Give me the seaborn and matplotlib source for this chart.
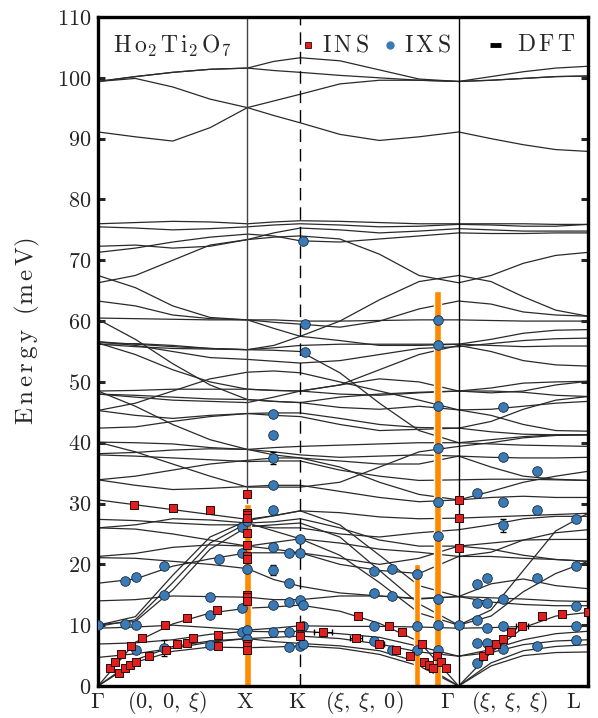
import numpy as np
import pandas as pd
import matplotlib
matplotlib.use("Agg")
import matplotlib.pyplot as plt
import seaborn as sns

# ---------------- data ----------------
# path coordinate of knots: G(0)..X(1)..K(1.354)..G(2.414)..L(3.280)
knot_q = [0.0, 0.25, 0.5, 0.75, 1.0, 1.177, 1.354, 1.619, 1.884, 2.149,
          2.414, 2.631, 2.847, 3.064, 3.280]
sym_lines_q = [1.0, 1.354, 2.414]
label_q = [0.0, 0.465, 0.984, 1.329, 1.784, 2.339, 2.758, 3.183]
label_text = [r"$\Gamma$", r"$(0,\;0,\;\xi)$", "X", "K", r"$(\xi,\;\xi,\;0)$",
              r"$\Gamma$", r"$(\xi,\;\xi,\;\xi)$", "L"]

# DFT branches (meV at knot_q)
dft_low = [
    [0.0, 3.9, 5.7, 6.4, 6.3, 6.4, 6.6, 6.2, 5.2, 3.3, 0.0, 3.3, 5.0, 5.5, 5.6],
    [0.0, 4.3, 6.5, 7.4, 7.8, 7.3, 7.0, 6.6, 5.8, 3.9, 0.0, 3.8, 5.8, 6.5, 6.8],
    [0.0, 7.2, 10.2, 12.0, 12.8, 13.0, 13.3, 12.3, 10.3, 7.3, 0.0, 5.5, 9.6, 11.5, 12.1],
    [4.7, 5.3, 6.2, 7.2, 7.8, 8.0, 8.2, 7.8, 6.9, 5.6, 4.9, 5.5, 6.8, 7.4, 7.6],
    [6.9, 7.1, 7.6, 8.5, 9.0, 8.9, 9.0, 8.6, 8.0, 6.5, 4.9, 6.0, 7.6, 8.6, 9.0],
    [9.5, 9.7, 10.0, 9.6, 9.2, 9.5, 9.9, 9.8, 9.8, 9.7, 9.5, 9.6, 9.8, 9.8, 9.8],
    [10.1, 10.6, 15.8, 22.5, 26.2, 26.5, 26.8, 24.5, 19.0, 13.5, 10.0, 11.5, 15.5, 18.5, 20.5],
    [9.8, 10.9, 17.0, 23.5, 26.8, 25.5, 24.2, 21.5, 17.0, 12.0, 10.0, 12.5, 19.0, 25.5, 28.4],
    [10.0, 11.4, 18.2, 24.5, 27.2, 28.0, 28.8, 26.5, 21.5, 16.5, 14.7, 14.5, 14.3, 14.0, 13.9],
    [14.0, 14.2, 14.8, 14.7, 14.6, 14.2, 14.2, 14.8, 14.8, 14.4, 14.7, 16.8, 17.6, 16.5, 16.0],
    [16.9, 17.6, 19.7, 20.9, 21.9, 21.9, 21.9, 20.0, 19.0, 18.5, 21.3, 21.3, 21.0, 20.8, 20.5],
    [21.1, 21.0, 20.5, 20.0, 19.3, 17.5, 16.4, 15.3, 14.8, 14.3, 14.7, 13.8, 13.4, 13.2, 13.2],
]
dft_mid = [
    [21.3, 21.8, 22.8, 23.2, 23.0, 22.5, 21.9, 21.0, 20.0, 21.0, 23.0, 23.5, 24.0, 24.1, 24.1],
    [26.0, 25.8, 25.0, 24.0, 23.0, 23.6, 24.2, 23.5, 22.5, 22.0, 21.3, 22.0, 24.0, 25.2, 25.7],
    [27.4, 27.2, 26.8, 26.5, 26.5, 26.0, 26.0, 25.0, 24.5, 25.2, 25.7, 26.5, 27.5, 27.9, 27.9],
    [30.6, 29.8, 29.0, 28.2, 27.4, 28.0, 28.8, 28.5, 27.8, 27.5, 27.6, 27.8, 28.0, 28.2, 28.4],
    [33.9, 33.0, 32.3, 32.5, 32.8, 33.0, 33.0, 32.0, 31.0, 30.3, 30.6, 31.0, 31.2, 31.0, 31.0],
    [26.0, 26.5, 27.5, 27.3, 26.8, 27.0, 27.5, 26.0, 24.0, 23.0, 23.0, 22.5, 21.5, 20.8, 20.5],
    [33.9, 34.5, 35.5, 36.5, 37.1, 37.5, 37.5, 36.0, 33.5, 31.5, 30.6, 32.0, 33.5, 34.5, 35.3],
    [38.0, 37.8, 37.5, 37.2, 36.9, 37.0, 37.0, 35.5, 34.5, 33.8, 33.9, 34.0, 34.0, 33.9, 33.8],
    [38.2, 38.4, 38.8, 39.0, 38.9, 38.5, 38.0, 37.6, 37.8, 38.0, 37.8, 37.6, 37.5, 37.5, 37.6],
    [40.1, 38.5, 36.5, 34.5, 32.7, 32.7, 32.7, 33.5, 36.0, 38.5, 39.4, 40.0, 40.8, 41.2, 41.3],
    [40.1, 40.0, 39.8, 39.2, 38.9, 39.2, 39.4, 39.6, 39.8, 40.0, 40.0, 39.8, 39.6, 39.5, 39.4],
    [42.4, 42.6, 43.5, 44.3, 44.8, 44.9, 44.9, 44.0, 43.0, 42.5, 42.4, 43.5, 45.5, 47.0, 47.6],
    [45.3, 46.5, 48.5, 50.5, 51.6, 51.8, 51.5, 50.0, 48.5, 47.0, 45.4, 44.5, 43.0, 42.0, 41.9],
    [45.3, 44.5, 44.0, 44.5, 44.8, 44.5, 44.3, 43.0, 42.0, 42.2, 42.4, 41.8, 41.4, 41.3, 41.3],
    [48.0, 47.8, 47.5, 47.2, 47.1, 46.8, 46.6, 45.8, 45.5, 46.0, 45.4, 45.5, 46.0, 46.5, 46.8],
    [48.0, 47.5, 47.0, 46.8, 46.6, 47.5, 48.5, 49.5, 50.5, 50.0, 48.5, 49.0, 49.8, 50.0, 50.1],
    [48.5, 46.0, 43.0, 40.5, 38.9, 38.0, 37.5, 37.0, 36.5, 36.5, 37.8, 36.0, 34.5, 34.0, 33.8],
    [48.5, 48.6, 48.8, 48.8, 48.8, 48.6, 48.5, 48.0, 47.8, 48.2, 48.5, 48.5, 48.3, 47.8, 47.6],
]
dft_high = [
    [56.2, 55.8, 55.5, 55.4, 55.3, 55.6, 56.0, 56.2, 56.2, 56.2, 56.2, 56.0, 55.8, 55.9, 55.9],
    [56.6, 56.0, 55.0, 54.0, 53.7, 53.4, 53.1, 53.5, 54.5, 55.5, 55.8, 56.3, 56.8, 57.1, 57.2],
    [56.4, 54.5, 52.0, 50.0, 48.8, 48.6, 48.5, 49.5, 52.0, 54.5, 56.0, 55.0, 53.5, 52.8, 52.6],
    [56.6, 56.2, 55.8, 55.5, 55.3, 55.2, 55.0, 51.5, 46.5, 42.0, 40.0, 40.5, 41.0, 41.3, 41.3],
    [56.2, 56.3, 56.0, 55.5, 55.3, 56.0, 57.5, 56.8, 56.0, 56.0, 56.2, 57.0, 58.0, 58.5, 58.6],
    [60.5, 60.4, 60.3, 60.2, 60.2, 60.2, 60.0, 60.0, 60.1, 60.2, 60.2, 60.1, 60.0, 60.0, 60.0],
    [60.3, 57.0, 53.0, 49.5, 47.1, 46.8, 46.6, 47.5, 48.0, 48.3, 48.5, 48.2, 48.5, 49.5, 50.1],
    [63.3, 62.5, 61.0, 60.4, 60.2, 59.8, 59.5, 59.0, 60.0, 62.0, 63.3, 62.8, 61.5, 61.0, 60.8],
    [67.5, 65.5, 62.5, 60.6, 60.2, 58.8, 57.5, 60.0, 63.5, 66.5, 67.5, 66.5, 64.0, 61.8, 60.8],
    [66.3, 67.5, 70.0, 72.5, 73.4, 73.8, 74.0, 73.5, 71.0, 67.5, 66.3, 67.5, 69.5, 70.8, 71.3],
    [71.3, 72.0, 73.0, 73.8, 74.3, 74.0, 73.2, 73.0, 73.5, 74.0, 74.5, 74.4, 74.4, 74.5, 74.5],
    [72.3, 72.5, 72.0, 72.3, 73.4, 74.5, 75.3, 75.0, 74.5, 74.8, 75.2, 75.0, 74.8, 74.8, 74.8],
    [75.5, 75.3, 75.0, 75.2, 75.5, 75.8, 76.0, 75.8, 75.5, 75.6, 75.9, 75.8, 75.6, 75.6, 75.9],
    [76.0, 76.2, 76.4, 76.3, 76.0, 76.3, 76.5, 76.4, 76.2, 76.0, 76.0, 76.0, 76.0, 75.9, 75.9],
]
dft_top = [
    [99.4, 100.2, 100.9, 101.4, 101.6, 102.7, 103.3, 102.8, 101.3, 99.8, 99.4, 100.2, 101.0, 101.6, 101.9],
    [99.4, 99.9, 98.5, 96.5, 95.1, 96.2, 97.3, 99.0, 99.6, 99.6, 99.4, 99.6, 99.9, 100.2, 100.3],
    [91.1, 90.3, 89.6, 91.8, 95.1, 93.8, 92.6, 90.7, 89.7, 90.3, 91.1, 90.0, 89.0, 88.2, 87.9],
    [99.4, 100.2, 100.9, 101.4, 101.6, 101.2, 100.9, 100.4, 100.0, 99.6, 99.4, 99.6, 99.9, 100.2, 100.3],
]

# INS (red squares)
ins_q = [0.083, 0.117, 0.139, 0.153, 0.180, 0.211, 0.220, 0.256, 0.297, 0.342,
         0.449, 0.458, 0.526, 0.593, 0.598, 0.638, 0.796, 0.800, 0.800,
         0.243, 0.499, 0.751,
         1.0, 1.0, 1.0, 1.0, 1.0, 1.0, 1.0, 1.0, 1.0, 1.0, 1.0, 1.0, 1.0, 1.0,
         1.354, 1.354, 1.504, 1.728,
         1.741, 1.884, 1.947, 1.996, 2.036, 2.090, 2.166, 2.179, 2.218, 2.245,
         2.267, 2.298, 2.330,
         2.417, 2.417, 2.417,
         2.578, 2.617, 2.664, 2.713, 2.766, 2.838, 2.970, 3.107, 3.280]
ins_E = [3.0, 3.9, 2.2, 5.2, 3.0, 3.5, 6.6, 3.9, 7.9, 5.0,
         10.0, 5.9, 6.9, 7.1, 11.1, 7.9, 12.5, 8.4, 6.5,
         29.7, 29.3, 28.9,
         31.6, 28.5, 28.1, 27.7, 25.1, 23.2, 21.3, 20.9, 15.0, 14.6, 14.0, 6.9, 6.6, 5.9,
         9.9, 8.2, 8.9, 7.9,
         11.5, 6.9, 9.9, 5.9, 8.9, 5.0, 6.9, 3.9, 3.5, 2.9,
         5.0, 3.9, 2.9,
         30.6, 27.6, 22.7,
         5.0, 6.0, 6.9, 7.8, 8.9, 9.9, 11.5, 11.9, 12.1]
ins_err_q = [1.504, 1.728, 1.884, 2.838]
ins_err_E = [8.9, 7.9, 6.9, 9.9]
ins_err_dq = [0.06, 0.04, 0.03, 0.04]

# IXS (blue circles)
ixs_q = [0.0, 0.18, 0.256, 0.445, 0.809, 0.445, 0.751, 0.18, 0.256, 0.751,
         0.966, 0.256, 0.445, 0.751, 0.966, 0.966, 0.966,
         1.0, 1.0, 1.0, 1.0,
         1.169, 1.169, 1.169, 1.169, 1.169, 1.169, 1.169, 1.169, 1.169,
         1.279, 1.279, 1.279, 1.279, 1.279,
         1.354, 1.354, 1.354, 1.354, 1.374, 1.374, 1.374, 1.383, 1.383, 1.374,
         1.849, 1.849, 1.849, 1.849, 1.965, 1.965, 1.965, 2.135, 2.135, 2.135,
         2.278, 2.278, 2.278, 2.278, 2.278, 2.278, 2.278, 2.278, 2.278,
         2.414,
         2.54, 2.54, 2.54, 2.54, 2.54, 2.54, 2.607, 2.607, 2.607, 2.607,
         2.713, 2.713, 2.713, 2.713, 2.713, 2.713, 2.713,
         2.941, 2.941, 2.941, 2.941,
         3.201, 3.201, 3.201, 3.201, 3.201]
ixs_E = [10.1, 17.3, 18.0, 19.7, 20.8, 15.0, 14.6, 10.2, 10.1, 11.7,
         12.8, 5.9, 6.2, 6.7, 26.2, 21.9, 8.9,
         27.2, 19.3, 9.2, 7.8,
         33.0, 28.9, 22.8, 19.1, 13.3, 8.9, 44.8, 41.3, 37.5,
         21.9, 16.9, 13.8, 8.9, 6.4,
         24.2, 21.9, 14.2, 6.6, 13.3, 6.9, 9.9, 59.5, 55.0, 73.2,
         18.9, 15.3, 9.9, 7.4, 19.2, 14.8, 5.9, 18.4, 9.8, 5.9,
         30.3, 24.6, 14.3, 10.0, 5.9, 60.1, 56.0, 46.0, 39.2,
         10.0,
         31.7, 16.8, 13.6, 10.9, 7.0, 3.8, 17.7, 13.6, 9.5, 7.1,
         45.9, 37.7, 30.2, 26.4, 14.3, 9.8, 6.1,
         35.3, 28.9, 17.8, 6.6,
         27.4, 19.7, 13.1, 9.8, 7.5]
ixs_err_q = [0.445, 1.169, 1.169, 2.713]
ixs_err_E = [6.2, 19.1, 37.5, 26.4]
ixs_err_dE = [1.3, 0.8, 1.0, 1.0]

# orange bars (energy windows)
bar_q = [1.0, 2.133, 2.273]
bar_top = [30.0, 20.0, 65.0]

legend_labels = [r"$\mathrm{I\,N\,S}$", r"$\mathrm{I\,X\,S}$", r"$\mathrm{D\,F\,T}$"]

# ---------------- figure ----------------
sns.set_style("ticks")
plt.rcParams["font.family"] = ["cmr10", "DejaVu Serif"]
plt.rcParams["mathtext.fontset"] = "cm"
plt.rcParams["axes.formatter.use_mathtext"] = True

RED = "#e0201e"
BLUE = "#3a7ab6"

fig = plt.figure(figsize=(5.98, 7.18), dpi=100)
ax = fig.add_axes([98 / 598, 1 - 686 / 718, 490 / 598, 669 / 718])

rows = []
for bi, br in enumerate(dft_low + dft_mid + dft_high + dft_top):
    for q, e in zip(knot_q, br):
        rows.append((bi, q, e))
dft = pd.DataFrame(rows, columns=["branch", "q", "E"])
sns.lineplot(data=dft, x="q", y="E", units="branch", estimator=None, sort=False,
             color="#2a2a2a", lw=0.9, ax=ax, legend=False, zorder=1)

# symmetry lines
ax.axvline(sym_lines_q[0], color="#444444", lw=1.0, zorder=1.5)
ax.axvline(sym_lines_q[1], color="black", lw=1.0, ls=(0, (9, 5)), zorder=1.5)
ax.axvline(sym_lines_q[2], color="black", lw=1.0, zorder=1.5)

ax.bar(bar_q, bar_top, width=0.042, color="#ff8a00", zorder=2)

ax.errorbar(ixs_err_q, ixs_err_E, yerr=ixs_err_dE, fmt="none", ecolor="black",
            elinewidth=0.8, capsize=2.5, zorder=3)
ax.errorbar(ins_err_q, ins_err_E, xerr=ins_err_dq, fmt="none", ecolor="black",
            elinewidth=0.8, capsize=2.5, zorder=3)

sns.scatterplot(x=ixs_q, y=ixs_E, marker="o", s=48, color=BLUE,
                edgecolor="#1a2a3a", linewidth=0.6, ax=ax, zorder=4)
sns.scatterplot(x=ins_q, y=ins_E, marker="s", s=36, color=RED,
                edgecolor="#2a0a0a", linewidth=0.7, ax=ax, zorder=5)

ax.set_xlim(0, 3.280)
ax.set_ylim(0, 110)
ax.set_yticks(np.arange(0, 111, 10))
ax.set_xticks([])
ax.set_xlabel("")
ax.set_ylabel("")
ax.tick_params(axis="y", which="both", direction="in", length=5, width=2.2,
               left=True, right=True, labelsize=16, pad=5)
for sp in ax.spines.values():
    sp.set_visible(True)
    sp.set_linewidth(2.4)
    sp.set_color("black")

fig.text(27 / 598, 1 - 331 / 718,
         r"$\mathrm{E\,n\,e\,r\,g\,y\ \ (m\,e\,V)}$",
         rotation=90, ha="center", va="center", fontsize=18)

tr = ax.get_xaxis_transform()
for q, lab in zip(label_q, label_text):
    ax.text(q, -0.025, lab, transform=tr, ha="center", va="center", fontsize=16)

ax.text(0.031, 0.958, r"$\mathrm{H\,o_2\,T\,i_2\,O_7}$", transform=ax.transAxes,
        ha="left", va="center", fontsize=17)

# legend (placed like the reference)
ly = 0.958
ax.plot([(308 - 98) / 490], [ly], transform=ax.transAxes, marker="s", ls="",
        mfc=RED, mec="#2a0a0a", ms=5, mew=0.6, clip_on=False)
ax.plot([(390 - 98) / 490], [ly], transform=ax.transAxes, marker="o", ls="",
        mfc=BLUE, mec=BLUE, ms=5, clip_on=False)
ax.plot([(490 - 98) / 490, (501 - 98) / 490], [ly, ly], transform=ax.transAxes,
        color="black", lw=3.5, solid_capstyle="butt", clip_on=False)
for px, lab in zip([322, 404, 517], legend_labels):
    ax.text((px - 98) / 490, ly, lab, transform=ax.transAxes, ha="left",
            va="center", fontsize=17)

fig.savefig("out.png", dpi=100)
